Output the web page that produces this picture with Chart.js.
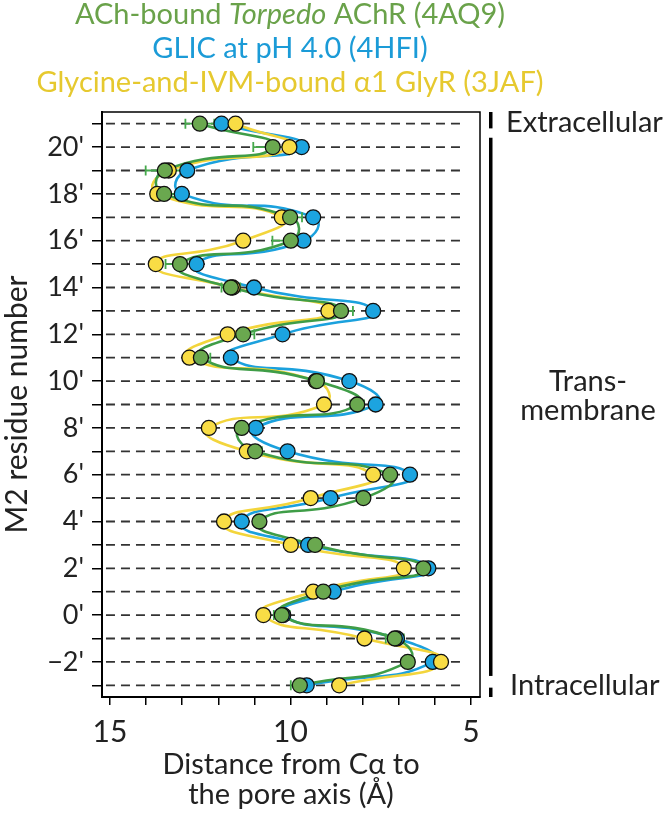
<!DOCTYPE html>
<html lang="en">
<head>
<meta charset="UTF-8">
<title>M2 pore-lining profile</title>
<script src="https://cdn.jsdelivr.net/npm/chart.js"></script>
<style>
  html, body { margin: 0; padding: 0; background: #fff; }
  canvas { display: block; }
</style>
</head>
<body>
<canvas id="poreChart" width="672" height="814"></canvas>
<script>
// M2 residue numbers (prime positions), bottom to top
const residues = [-3, -2, -1, 0, 1, 2, 3, 4, 5, 6, 7, 8, 9, 10, 11, 12, 13, 14, 15, 16, 17, 18, 19, 20, 21];

// distance from C-alpha to the pore axis (Å)
const achr4aq9 = [9.74, 6.75, 7.11, 10.24, 9.09, 6.32, 9.32, 10.86, 7.98, 7.24, 10.98, 11.35, 8.15, 9.27, 12.48, 11.31, 8.60, 11.65, 13.06, 9.99, 10.01, 13.50, 13.48, 10.49, 12.51];
const achrErr  = [0.25, 0.17, 0.25, 0.22, 0.19, 0.10, 0.10, 0.10, 0.16, 0.10, 0.19, 0.10, 0.19, 0.19, 0.26, 0.31, 0.33, 0.26, 0.40, 0.51, 0.33, 0.36, 0.53, 0.54, 0.40];
const glic4hfi = [9.55, 6.06, 7.05, 10.20, 8.80, 6.18, 9.51, 11.35, 8.89, 6.69, 10.08, 10.96, 7.64, 8.37, 11.65, 10.22, 7.71, 11.01, 12.60, 9.64, 9.37, 13.01, 12.86, 9.69, 11.91];
const glyr3jaf = [8.65, 5.83, 7.95, 10.75, 9.37, 6.86, 9.99, 11.84, 9.44, 7.71, 11.21, 12.26, 9.07, 9.30, 12.80, 11.74, 8.95, 11.60, 13.73, 11.31, 10.24, 13.69, 13.37, 10.03, 11.52];

const xTicks = [5, 6, 7, 8, 9, 10, 11, 12, 13, 14, 15];
const xLabels = [5, 10, 15];
const yLabels = [-2, 0, 2, 4, 6, 8, 10, 12, 14, 16, 18, 20];

// membrane regions in residue units
const regionNames = ['Extracellular', 'Trans-membrane', 'Intracellular'];
const regionFrom = [20.8, -2.6, -3.5];
const regionTo = [21.5, 20.4, -3.1];

const GREEN = '#6aa84f', GREEN_LINE = '#3f9d47';
const BLUE = '#1ca4e0', BLUE_LINE = '#1ba1dd';
const YELLOW = '#f9dd45', YELLOW_LINE = '#f3d53c';
const GREEN_KEY = '#6aa24a', BLUE_KEY = '#1b9bd7', YELLOW_KEY = '#e6c92f';
const FONT = "Lato, 'Open Sans', sans-serif";

function pts(vals) {
  return residues.map((r, i) => ({ x: vals[i], y: r }));
}

function lineSet(vals, color) {
  return { data: pts(vals), showLine: true, borderColor: color, borderWidth: 2.6,
           tension: 0.6, pointRadius: 0, pointHoverRadius: 0 };
}
function dotSet(vals, color) {
  return { data: pts(vals), showLine: false, backgroundColor: color, borderColor: '#111',
           borderWidth: 1.3, pointRadius: 7.5, pointHoverRadius: 7.5 };
}

const decorations = {
  id: 'decorations',
  beforeDatasetsDraw(chart) {
    const { ctx, scales: { x, y } } = chart;
    ctx.save();
    ctx.strokeStyle = '#333';
    ctx.lineWidth = 1.8;
    ctx.setLineDash([9, 6]);
    residues.forEach(r => {
      const py = y.getPixelForValue(r);
      ctx.beginPath();
      ctx.moveTo(x.getPixelForValue(15.11), py);
      ctx.lineTo(x.getPixelForValue(5.14), py);
      ctx.stroke();
    });
    ctx.restore();
  },
  afterDatasetDraw(chart, args) {
    if (args.index !== 3) return; // right after the green curve
    const { ctx, scales: { x, y } } = chart;
    ctx.save();
    ctx.strokeStyle = '#45a94c';
    ctx.lineWidth = 1.8;
    residues.forEach((r, i) => {
      const py = y.getPixelForValue(r);
      const lo = x.getPixelForValue(achr4aq9[i] + achrErr[i]);
      const hi = x.getPixelForValue(achr4aq9[i] - achrErr[i]);
      ctx.beginPath();
      ctx.moveTo(lo, py); ctx.lineTo(hi, py);
      ctx.moveTo(lo, py - 5); ctx.lineTo(lo, py + 5);
      ctx.moveTo(hi, py - 5); ctx.lineTo(hi, py + 5);
      ctx.stroke();
    });
    ctx.restore();
  },
  afterDraw(chart) {
    const { ctx, chartArea: a, scales: { y } } = chart;
    ctx.save();
    // frame
    ctx.strokeStyle = '#000';
    ctx.lineWidth = 1.5;
    ctx.strokeRect(a.left, a.top, a.right - a.left, a.bottom - a.top);

    // region bars
    ctx.fillStyle = '#000';
    regionNames.forEach((n, i) => {
      const t = y.getPixelForValue(regionTo[i]);
      const b = y.getPixelForValue(regionFrom[i]);
      ctx.fillRect(a.right + 9, t, 3.5, b - t);
    });
    ctx.fillStyle = '#222';
    ctx.font = '29px ' + FONT;
    ctx.textBaseline = 'alphabetic';
    ctx.textAlign = 'left';
    ctx.fillText(regionNames[0], a.right + 26, y.getPixelForValue(21) + 8);
    ctx.fillText(regionNames[2], a.right + 30, y.getPixelForValue(-3) + 10);
    ctx.textAlign = 'center';
    const mid = y.getPixelForValue((regionFrom[1] + regionTo[1]) / 2);
    ctx.fillText('Trans-', 588, mid - 16);
    ctx.fillText('membrane', 588, mid + 13);

    // coloured key lines
    const cx = 290;
    const keys = [
      [[GREEN_KEY, 'ACh-bound ', false], [GREEN_KEY, 'Torpedo', true], [GREEN_KEY, ' AChR (4AQ9)', false]],
      [[BLUE_KEY, 'GLIC at pH 4.0 (4HFI)', false]],
      [[YELLOW_KEY, 'Glycine-and-IVM-bound \u03b11 GlyR (3JAF)', false]]
    ];
    const baselines = [24, 58, 92];
    ctx.textAlign = 'left';
    keys.forEach((runs, li) => {
      let w = 0;
      runs.forEach(r => { ctx.font = (r[2] ? 'italic ' : '') + '29px ' + FONT; w += ctx.measureText(r[1]).width; });
      let px = cx - w / 2;
      runs.forEach(r => {
        ctx.font = (r[2] ? 'italic ' : '') + '29px ' + FONT;
        ctx.fillStyle = r[0];
        ctx.fillText(r[1], px, baselines[li]);
        px += ctx.measureText(r[1]).width;
      });
    });
    ctx.restore();
  }
};

new Chart(document.getElementById('poreChart'), {
  type: 'scatter',
  data: {
    datasets: [
      dotSet(achr4aq9, GREEN),
      dotSet(glyr3jaf, YELLOW),
      dotSet(glic4hfi, BLUE),
      lineSet(achr4aq9, GREEN_LINE),
      lineSet(glyr3jaf, YELLOW_LINE),
      lineSet(glic4hfi, BLUE_LINE)
    ]
  },
  options: {
    responsive: false,
    animation: false,
    layout: { padding: { top: 112, right: 192, left: 0, bottom: 0 } },
    plugins: { legend: { display: false }, tooltip: { enabled: false } },
    scales: {
      x: {
        type: 'linear', reverse: true, min: 4.75, max: 15.22,
        afterBuildTicks: s => { s.ticks = xTicks.map(v => ({ value: v })); },
        afterFit: s => { s.height = 117; },
        grid: { drawOnChartArea: false, drawTicks: true, tickLength: 8, color: '#000', lineWidth: 1.5 },
        border: { color: '#000', width: 2 },
        ticks: {
          autoSkip: false, maxRotation: 0, padding: 9, color: '#222',
          font: { family: FONT, size: 30 },
          callback: v => xLabels.includes(v) ? String(v) : ''
        },
        title: {
          display: true, text: ['Distance from C\u03b1 to', 'the pore axis (\u00c5)'],
          color: '#222', font: { family: FONT, size: 29, lineHeight: 1.05 }, padding: { top: 0, bottom: 4 }
        }
      },
      y: {
        type: 'linear', min: -3.5, max: 21.5,
        afterBuildTicks: s => { s.ticks = residues.map(v => ({ value: v })); },
        afterFit: s => { s.width = 102; },
        grid: { drawOnChartArea: false, drawTicks: true, tickLength: 10, color: '#000', lineWidth: 1.5 },
        border: { color: '#000', width: 2 },
        ticks: {
          autoSkip: false, padding: 8, color: '#222',
          font: { family: FONT, size: 27 },
          callback: v => yLabels.includes(v) ? (v < 0 ? '\u2212' + Math.abs(v) : v) + "'" : ''
        },
        title: {
          display: true, text: 'M2 residue number',
          color: '#222', font: { family: FONT, size: 30, lineHeight: 1.1 }, padding: { top: 1, bottom: 0 }
        }
      }
    }
  },
  plugins: [decorations]
});
</script>
</body>
</html>
